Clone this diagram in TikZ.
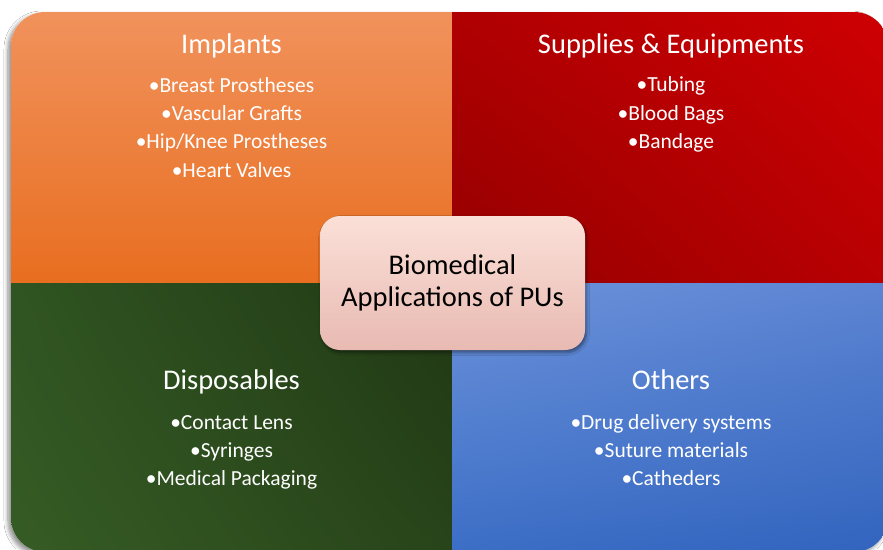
\documentclass[tikz,border=0pt]{standalone}
\usepackage{fontspec}
\setmainfont{Carlito}
\usetikzlibrary{shadows.blur,shadings}
\definecolor{orTop}{RGB}{241,146,92}
\definecolor{orBot}{RGB}{232,110,32}
\definecolor{rdLL}{RGB}{148,0,0}
\definecolor{rdUL}{RGB}{175,0,2}
\definecolor{rdLR}{RGB}{185,0,2}
\definecolor{rdUR}{RGB}{206,0,2}
\definecolor{gnUL}{RGB}{48,84,34}
\definecolor{gnLL}{RGB}{54,92,36}
\definecolor{gnUR}{RGB}{32,56,20}
\definecolor{gnLR}{RGB}{40,68,26}
\definecolor{blUL}{RGB}{108,146,218}
\definecolor{blUR}{RGB}{92,132,210}
\definecolor{blLL}{RGB}{60,110,198}
\definecolor{blLR}{RGB}{50,100,190}
\definecolor{ctTop}{RGB}{251,224,216}
\definecolor{ctBot}{RGB}{232,186,178}
\tikzset{
  title/.style={anchor=base, text=white, inner sep=0pt, font=\fontsize{28.5}{30}\selectfont},
  item/.style={anchor=base, text=white, inner sep=0pt, font=\fontsize{21.5}{24}\selectfont},
  centerbox/.style={rounded corners=20pt, top color=ctTop, bottom color=ctBot,
    blur shadow={shadow xshift=1.5pt, shadow yshift=-2.5pt, shadow blur steps=6, shadow blur radius=3pt, shadow opacity=45}},
}
\begin{document}
\begin{tikzpicture}[x=1pt,y=-1pt]
\useasboundingbox (0,0) rectangle (883,549);
\fill[white] (0,0) rectangle (883,549);
% outer shape with shadow
\fill[white, rounded corners=34pt, blur shadow={shadow xshift=-3pt, shadow yshift=-3pt, shadow blur steps=6, shadow blur radius=4pt, shadow opacity=45}] (11,12) rectangle (888,552);
\begin{scope}
  \clip[rounded corners=34pt] (11,12) rectangle (888,552);
  \shade[top color=orTop, bottom color=orBot] (11,12) rectangle (452,283);
  \shade[upper left=rdUL, upper right=rdUR, lower left=rdLL, lower right=rdLR] (452,12) rectangle (888,283);
  \shade[upper left=gnUL, upper right=gnUR, lower left=gnLL, lower right=gnLR] (11,283) rectangle (452,552);
  \shade[upper left=blUL, upper right=blUR, lower left=blLL, lower right=blLR] (452,283) rectangle (888,552);
\end{scope}
% center box
\path[centerbox] (320,216) rectangle (585,350);
\node[anchor=base, inner sep=0pt, font=\fontsize{28.5}{30}\selectfont] (c1) at (452.5,274) {Biomedical};
\node[anchor=base, inner sep=0pt, font=\fontsize{28.5}{30}\selectfont] (c2) at (452.5,306) {Applications of PUs};
% Implants
\node[title] (t1) at (231.5,53) {Implants};
\node[item] (i11) at (231.5,92) {•Breast Prostheses};
\node[item] (i12) at (231.5,120) {•Vascular Grafts};
\node[item] (i13) at (231.5,148) {•Hip/Knee Prostheses};
\node[item] (i14) at (231.5,177) {•Heart Valves};
% Supplies
\node[title] (t2) at (671,53) {Supplies \& Equipments};
\node[item] (i21) at (671,91) {•Tubing};
\node[item] (i22) at (671,120) {•Blood Bags};
\node[item] (i23) at (671,148) {•Bandage};
% Disposables
\node[title] (t3) at (231.5,389) {Disposables};
\node[item] (i31) at (231.5,429) {•Contact Lens};
\node[item] (i32) at (231.5,457) {•Syringes};
\node[item] (i33) at (231.5,485) {•Medical Packaging};
% Others
\node[title] (t4) at (671,389) {Others};
\node[item] (i41) at (671,429) {•Drug delivery systems};
\node[item] (i42) at (671,457) {•Suture materials};
\node[item] (i43) at (671,485) {•Catheders};
\end{tikzpicture}
\end{document}
